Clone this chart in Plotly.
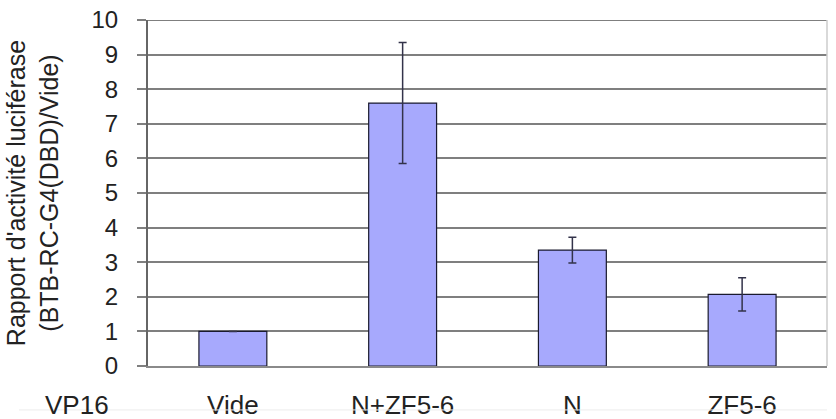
import plotly.graph_objects as go

categories = ["Vide", "N+ZF5-6", "N", "ZF5-6"]
values = [1.0, 7.6, 3.35, 2.07]
errors = [0.0, 1.75, 0.37, 0.48]
y_ticks = list(range(0, 11))

fig = go.Figure()
fig.add_trace(go.Bar(
    x=categories, y=values,
    width=0.4,
    marker=dict(color="#a7a9fd", line=dict(color="#1a1a2e", width=1.2)),
    error_y=dict(type="data", array=errors, visible=True, color="#33334a",
                 thickness=1.5, width=4),
))

fig.update_layout(
    width=836, height=419,
    margin=dict(l=148, r=9, t=20, b=53),
    paper_bgcolor="white", plot_bgcolor="white",
    showlegend=False,
    font=dict(family="Liberation Sans, Arial, sans-serif", color="#222222"),
    bargap=0.6,
)
fig.update_yaxes(
    range=[0, 10], tickvals=y_ticks, ticktext=[str(v) for v in y_ticks],
    showgrid=True, gridcolor="#7f7f7f", gridwidth=2,
    showline=True, linecolor="#666666", linewidth=2,
    ticks="outside", ticklen=9, tickcolor="#7f7f7f", tickwidth=2,
    tickfont=dict(size=24, color="#222222"),
    ticklabeloverflow="allow", ticklabelstandoff=14,
    zeroline=False, automargin=False,
    title=dict(text="Rapport d'activité luciférase<br>(BTB-RC-G4(DBD)/Vide)",
               font=dict(size=25, color="#222222"), standoff=26),
)
fig.update_xaxes(
    showline=True, linecolor="#8a8a8a", linewidth=2, mirror=False,
    tickfont=dict(size=26, color="#222222"), automargin=False,
    ticks="", ticklabelstandoff=15,
)
# top gridline (range edge)
fig.add_shape(type="line", xref="paper", yref="y", x0=0, x1=1, y0=10, y1=10,
              line=dict(color="#7f7f7f", width=2), layer="below")
# right border of plot area
fig.add_shape(type="line", xref="paper", yref="paper", x0=1, x1=1, y0=0, y1=1,
              line=dict(color="#cccccc", width=1.5))
# faint baseline under labels
fig.add_shape(type="line", xref="paper", yref="paper", x0=-0.19, x1=1.0, y0=-0.127, y1=-0.127,
              line=dict(color="#ececec", width=1))
fig.add_annotation(text="VP16", xref="paper", yref="paper", x=-0.1046, y=-0.113,
                   xanchor="center", yanchor="middle", showarrow=False,
                   font=dict(size=26, color="#222222"))

fig.write_html("out.html", config={"displayModeBar": False},
               post_script="document.body.style.margin='0';document.body.style.overflow='hidden';")
